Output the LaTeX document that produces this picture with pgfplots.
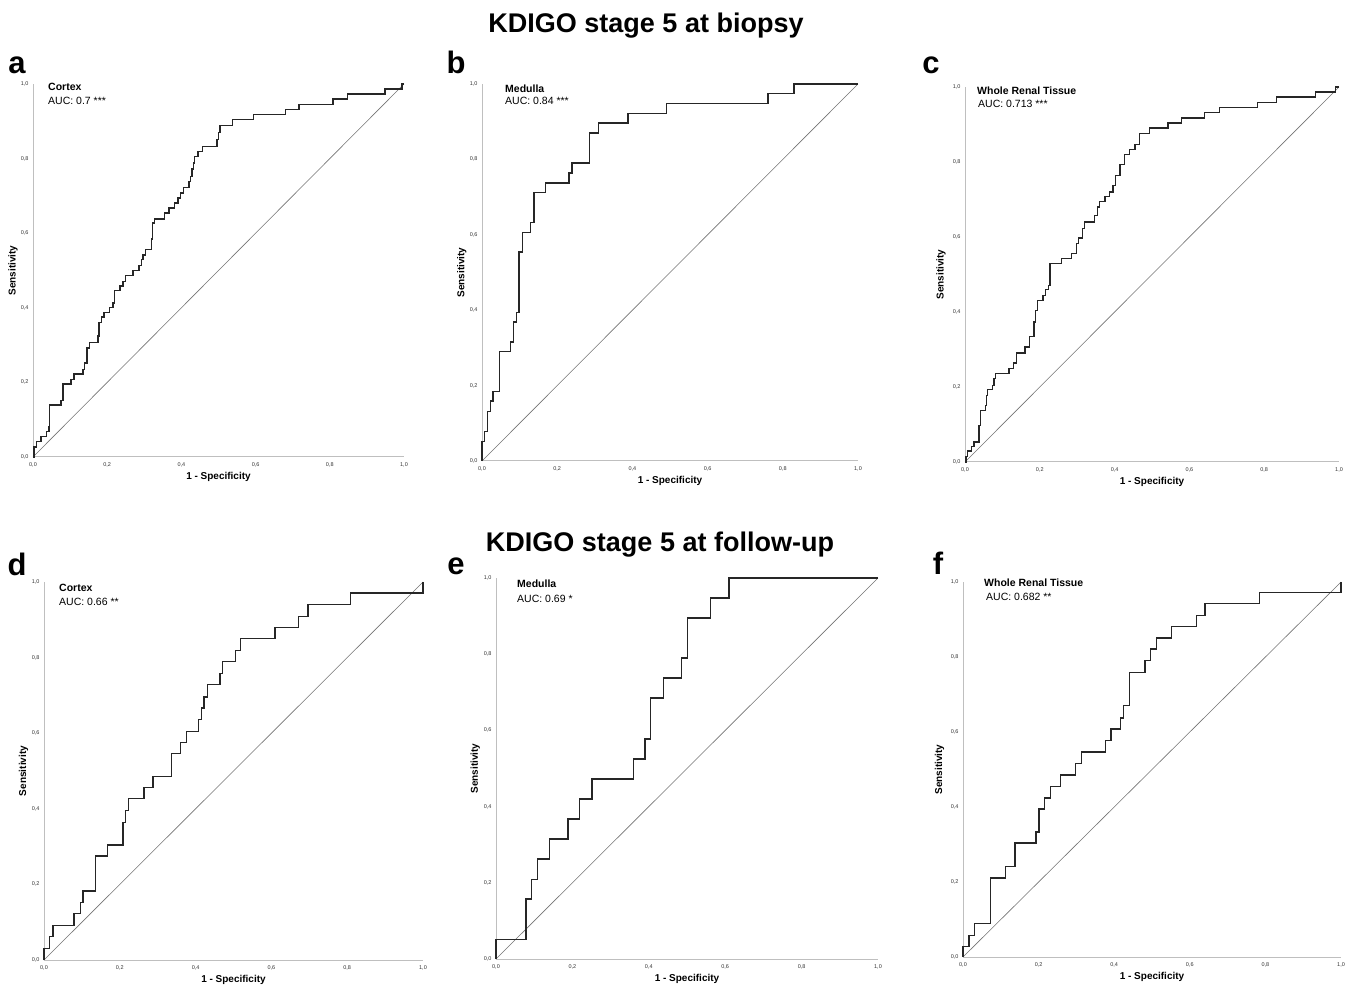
\documentclass[border=0pt]{standalone}
\usepackage{fontspec}
\setmainfont{Liberation Sans}
\usepackage{pgfplots}
\pgfplotsset{compat=1.18}

\pgfplotsset{
  roc/.style={
    scale only axis, anchor=south west, clip=false,
    xmin=0, xmax=1, ymin=0, ymax=1,
    axis x line*=bottom, axis y line*=left,
    axis line style={draw=black!25, line width=1pt, -},
    xtick={0,0.2,0.4,0.6,0.8,1}, ytick={0,0.2,0.4,0.6,0.8,1},
    major tick length=0pt,
    tick label style={font=\fontsize{5.5}{6}\selectfont, text=black!80},
    xticklabel style={yshift=-2pt},
    yticklabel style={xshift=-1pt},
    /pgf/number format/use comma,
    /pgf/number format/fixed,
    /pgf/number format/fixed zerofill,
    /pgf/number format/precision=1,
    /pgf/number format/assume math mode=true,
    xlabel={1 - Specificity}, ylabel={Sensitivity},
    label style={font=\fontsize{10}{12}\selectfont\bfseries},
    xlabel style={at={(axis description cs:0.5,0)}, anchor=center, yshift=-20pt},
    ylabel style={at={(axis description cs:-0.054,0.5)}, anchor=center},
  },
  curve/.style={const plot, black!85, line width=1.4pt},
  diag/.style={black!55, line width=0.6pt},
}

\begin{document}
\begin{tikzpicture}
\path[use as bounding box] (0,0) rectangle (1351pt,985pt);

% row 1: at biopsy
\begin{axis}[roc, at={(33pt,528pt)}, width=371pt, height=373pt]
\addplot[diag] coordinates {(0,0) (1,1)};
\addplot[curve] coordinates {
(0,0) (0.003,0.027) (0.010,0.042) (0.022,0.055) (0.036,0.069) (0.043,0.082)
(0.045,0.139) (0.075,0.152) (0.081,0.196) (0.102,0.207) (0.110,0.223)
(0.135,0.234) (0.139,0.252) (0.146,0.292) (0.153,0.307) (0.175,0.324)
(0.178,0.361) (0.184,0.375) (0.191,0.388) (0.207,0.401) (0.216,0.413)
(0.220,0.447) (0.234,0.458) (0.243,0.471) (0.250,0.487) (0.270,0.500)
(0.286,0.514) (0.292,0.529) (0.297,0.542) (0.304,0.556) (0.319,0.584)
(0.322,0.627) (0.328,0.638) (0.355,0.654) (0.367,0.668) (0.382,0.681)
(0.391,0.694) (0.397,0.708) (0.405,0.723) (0.420,0.739) (0.424,0.752)
(0.429,0.772) (0.432,0.788) (0.436,0.806) (0.445,0.819) (0.457,0.833)
(0.496,0.851) (0.500,0.870) (0.504,0.888) (0.538,0.904) (0.594,0.918)
(0.681,0.931) (0.717,0.945) (0.809,0.960) (0.848,0.973) (0.949,0.987)
(0.995,1.0) (1,1)};
\end{axis}

\begin{axis}[roc, at={(482pt,524pt)}, width=376pt, height=377pt]
\addplot[diag] coordinates {(0,0) (1,1)};
\addplot[curve] coordinates {
(0,0) (0,0.052) (0.007,0.079) (0.014,0.132) (0.022,0.159) (0.029,0.185)
(0.047,0.290) (0.076,0.316) (0.084,0.369) (0.091,0.394) (0.098,0.554)
(0.107,0.606) (0.129,0.632) (0.138,0.712) (0.169,0.737) (0.231,0.764)
(0.239,0.790) (0.286,0.870) (0.310,0.896) (0.388,0.921) (0.490,0.948)
(0.761,0.974) (0.830,1.0) (1,1)};
\end{axis}

\begin{axis}[roc, at={(965pt,523pt)}, width=374pt, height=375pt,
  ylabel style={at={(axis description cs:-0.064,0.5)}}]
\addplot[diag] coordinates {(0,0) (1,1)};
\addplot[curve] coordinates {
(0,0) (0.003,0.015) (0.007,0.029) (0.018,0.042) (0.024,0.053) (0.037,0.098)
(0.042,0.138) (0.055,0.151) (0.058,0.178) (0.060,0.193) (0.073,0.204)
(0.077,0.222) (0.082,0.236) (0.118,0.249) (0.129,0.264) (0.138,0.291)
(0.160,0.307) (0.172,0.335) (0.184,0.373) (0.188,0.404) (0.194,0.431)
(0.209,0.444) (0.215,0.460) (0.223,0.471) (0.227,0.529) (0.258,0.542)
(0.285,0.556) (0.298,0.582) (0.303,0.597) (0.314,0.622) (0.319,0.640)
(0.347,0.658) (0.354,0.680) (0.359,0.695) (0.374,0.708) (0.387,0.720)
(0.396,0.738) (0.403,0.764) (0.414,0.793) (0.427,0.820) (0.439,0.833)
(0.454,0.847) (0.466,0.876) (0.494,0.891) (0.543,0.904) (0.579,0.917)
(0.641,0.932) (0.681,0.945) (0.782,0.959) (0.833,0.973) (0.937,0.987)
(0.991,1.0) (1,1)};
\end{axis}

% row 2: at follow-up
\begin{axis}[roc, at={(44pt,25pt)}, width=379pt, height=378pt]
\addplot[diag] coordinates {(0,0) (1,1)};
\addplot[curve] coordinates {
(0,0) (0,0.031) (0.015,0.062) (0.024,0.091) (0.079,0.123) (0.096,0.152)
(0.103,0.183) (0.136,0.275) (0.167,0.304) (0.208,0.364) (0.215,0.396)
(0.223,0.427) (0.264,0.456) (0.288,0.485) (0.336,0.546) (0.360,0.575)
(0.376,0.605) (0.408,0.636) (0.415,0.667) (0.422,0.696) (0.431,0.729)
(0.464,0.758) (0.471,0.789) (0.505,0.819) (0.519,0.850) (0.609,0.879)
(0.672,0.909) (0.697,0.940) (0.808,0.971) (1,1.0)};
\end{axis}

\begin{axis}[roc, at={(496pt,26pt)}, width=382pt, height=381pt]
\addplot[diag] coordinates {(0,0) (1,1)};
\addplot[curve] coordinates {
(0,0) (0,0.051) (0.079,0.157) (0.093,0.208) (0.109,0.262) (0.140,0.315)
(0.188,0.367) (0.218,0.420) (0.251,0.472) (0.360,0.525) (0.390,0.577)
(0.405,0.685) (0.438,0.738) (0.485,0.790) (0.501,0.895) (0.562,0.948)
(0.610,1.0) (1,1)};
\end{axis}

\begin{axis}[roc, at={(963pt,28pt)}, width=378pt, height=375pt,
  ylabel style={at={(axis description cs:-0.062,0.5)}}]
\addplot[diag] coordinates {(0,0) (1,1)};
\addplot[curve] coordinates {
(0,0) (0,0.028) (0.016,0.058) (0.031,0.089) (0.072,0.211) (0.113,0.242)
(0.137,0.304) (0.193,0.333) (0.201,0.395) (0.216,0.424) (0.232,0.455)
(0.258,0.485) (0.298,0.516) (0.314,0.547) (0.377,0.577) (0.391,0.608)
(0.417,0.637) (0.424,0.670) (0.440,0.759) (0.481,0.790) (0.496,0.821)
(0.512,0.851) (0.552,0.882) (0.617,0.911) (0.640,0.942) (0.784,0.972)
(1,1.0)};
\end{axis}

% titles and panel letters
\node[anchor=base, font=\fontsize{27}{30}\selectfont\bfseries] at (646pt,952pt) {KDIGO stage 5 at biopsy};
\node[anchor=base, font=\fontsize{27}{30}\selectfont\bfseries] at (660pt,433pt) {KDIGO stage 5 at follow-up};
\foreach \l/\x/\y in {a/17/911, b/456/911, c/931/911, d/17/409, e/456/410, f/938/410}
  \node[anchor=base, font=\fontsize{31}{34}\selectfont\bfseries] at (\x pt,\y pt) {\l};

% panel annotations
\tikzset{nm/.style={anchor=base west, inner sep=0pt, font=\fontsize{10.5}{12}\selectfont\bfseries},
         auc/.style={anchor=base west, inner sep=0pt, font=\fontsize{10.5}{12}\selectfont}}
\node[nm] at (48pt,894pt) {Cortex};
\node[auc] at (48pt,880pt) {AUC: 0.7 ***};
\node[nm] at (505pt,892pt) {Medulla};
\node[auc] at (505pt,880pt) {AUC: 0.84 ***};
\node[nm] at (977pt,890pt) {Whole Renal Tissue};
\node[auc] at (978pt,877pt) {AUC: 0.713 ***};
\node[nm] at (59pt,393pt) {Cortex};
\node[auc] at (59pt,379pt) {AUC: 0.66 **};
\node[nm] at (517pt,397pt) {Medulla};
\node[auc] at (517pt,382pt) {AUC: 0.69 *};
\node[nm] at (984pt,398pt) {Whole Renal Tissue};
\node[auc] at (986pt,384pt) {AUC: 0.682 **};
\end{tikzpicture}
\end{document}
